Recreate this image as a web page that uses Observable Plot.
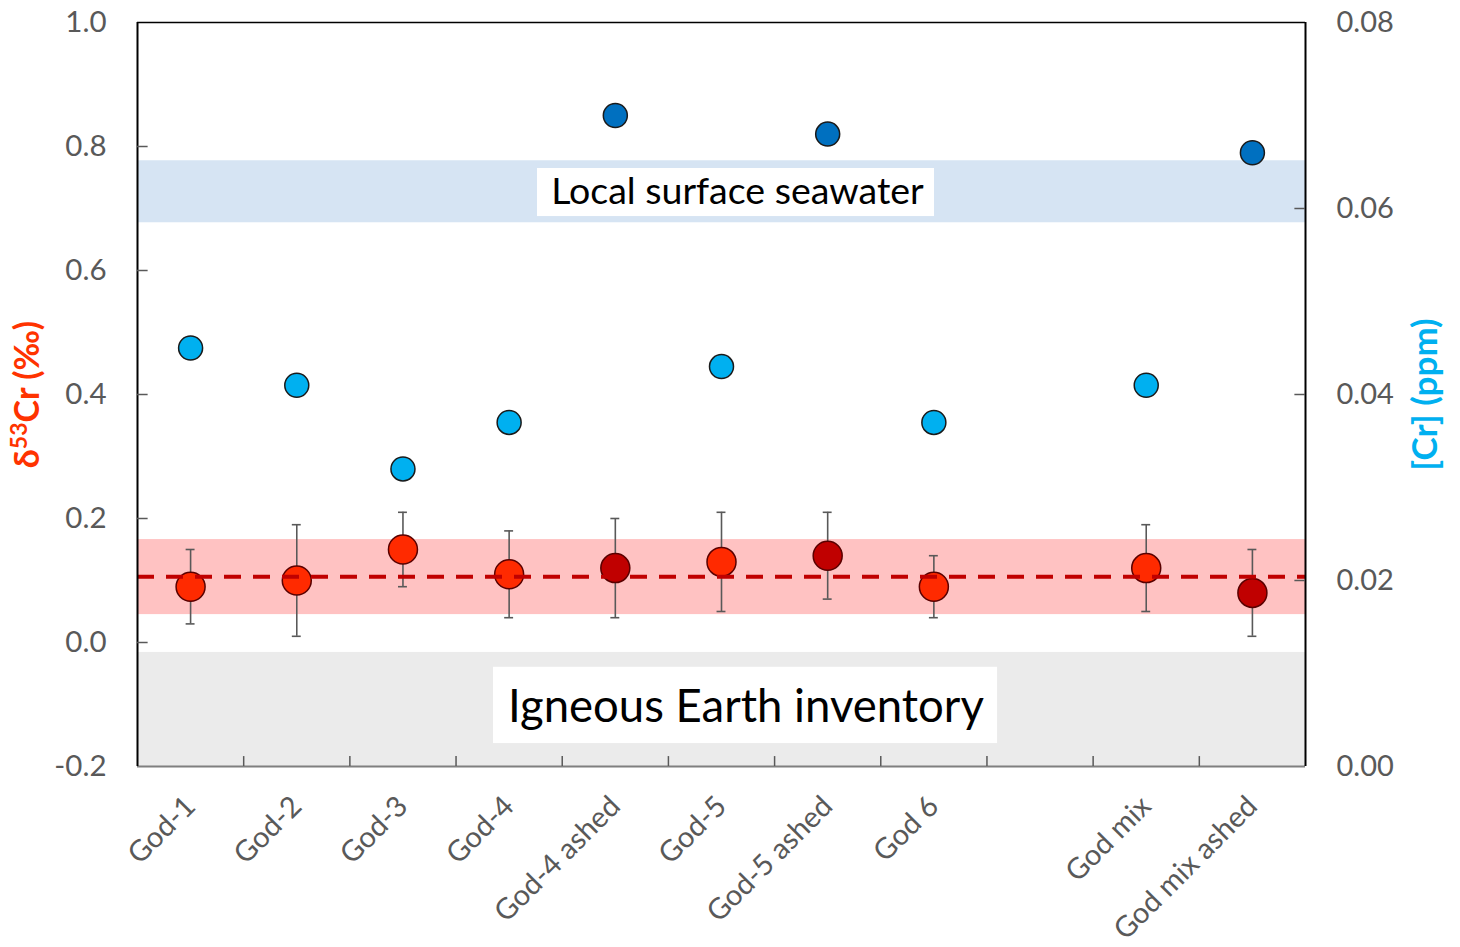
<!DOCTYPE html>
<html><head><meta charset="utf-8">
<script src="https://cdn.jsdelivr.net/npm/d3@7"></script>
<script src="https://cdn.jsdelivr.net/npm/@observablehq/plot@0.6"></script>
<style>body{margin:0;background:#fff;}</style>
</head><body><div id="chart"></div>
<script>
// ---- data ----
const categories = ["God-1","God-2","God-3","God-4","God-4 ashed","God-5","God-5 ashed","God 6","","God mix","God mix ashed"];
const ashed      = [false,false,false,false,true,false,true,false,false,false,true];
const delta53    = [0.09,0.10,0.15,0.11,0.12,0.13,0.14,0.09,null,0.12,0.08];
const deltaLow   = [0.03,0.01,0.09,0.04,0.04,0.05,0.07,0.04,null,0.05,0.01];
const deltaHigh  = [0.15,0.19,0.21,0.18,0.20,0.21,0.21,0.14,null,0.19,0.15];
const crPpm      = [0.045,0.041,0.032,0.037,0.070,0.043,0.068,0.037,null,0.041,0.066];
const leftTicks  = [-0.2,0.0,0.2,0.4,0.6,0.8,1.0];
const rightTicks = [0.00,0.02,0.04,0.06,0.08];
const seawaterBand = [0.677,0.777];
const sampleBand   = [0.045,0.166];
const igneousBand  = [-0.2,-0.016];
const meanDelta    = 0.106;

// right axis maps [0,0.08] ppm onto left [-0.2,1.0]
const toLeft = v => -0.2 + v * (1.2 / 0.08);

const rows = categories.map((c,i)=>({cat:c, pos:i+0.5, ashed:ashed[i], d:delta53[i], lo:deltaLow[i], hi:deltaHigh[i], cr:crPpm[i]})).filter(r=>r.d!=null);
const n = categories.length;
const FONT = "Lato, 'Open Sans', sans-serif";
const grey = "#595959";

const chart = Plot.plot({
  width:1460, height:947,
  marginLeft:137, marginRight:155, marginTop:22, marginBottom:181,
  x:{domain:[0,n], axis:null},
  y:{domain:[-0.2,1.0], axis:null},
  style:{fontFamily:FONT, background:"white", overflow:"visible"},
  marks:[
    Plot.rect([igneousBand], {x1:()=>0, x2:()=>n, y1:d=>d[0], y2:d=>d[1], fill:"#ebebeb"}),
    Plot.rect([seawaterBand], {x1:()=>0, x2:()=>n, y1:d=>d[0], y2:d=>d[1], fill:"#d6e4f3"}),
    Plot.rect([sampleBand], {x1:()=>0, x2:()=>n, y1:d=>d[0], y2:d=>d[1], fill:"#ffc2c2"}),
    // error bars
    Plot.ruleX(rows, {x:"pos", y1:"lo", y2:"hi", stroke:grey, strokeWidth:1.6}),
    Plot.ruleY(rows, {y:"lo", x1:d=>d.pos-0.042, x2:d=>d.pos+0.042, stroke:grey, strokeWidth:1.6}),
    Plot.ruleY(rows, {y:"hi", x1:d=>d.pos-0.042, x2:d=>d.pos+0.042, stroke:grey, strokeWidth:1.6}),
    // delta53Cr points
    Plot.dot(rows, {x:"pos", y:"d", r:14.5, fill:d=>d.ashed?"#c00000":"#ff2a00", stroke:"#5a0000", strokeWidth:1.5}),
    // mean dashed line
    Plot.ruleY([meanDelta], {x1:()=>0, x2:()=>n, stroke:"#c00000", strokeWidth:4, strokeDasharray:"17,12"}),
    // Cr concentration points
    Plot.dot(rows, {x:"pos", y:d=>toLeft(d.cr), r:12, fill:d=>d.ashed?"#0070c0":"#00b0f0", stroke:"#1a1a1a", strokeWidth:1.5}),
    // annotation boxes
    Plot.rect([0], {x1:()=>3.767, x2:()=>7.506, y1:()=>0.687, y2:()=>0.7645, fill:"white"}),
    Plot.text(["Local surface seawater"], {x:()=>5.65, y:()=>0.726, text:d=>d, fontSize:37.5, fill:"black", fontFamily:FONT}),
    Plot.rect([0], {x1:()=>3.353, x2:()=>8.10, y1:()=>-0.163, y2:()=>-0.040, fill:"white"}),
    Plot.text(["Igneous Earth inventory"], {x:()=>5.73, y:()=>-0.105, text:d=>d, fontSize:45.5, fill:"black", fontFamily:FONT}),
    // frame
    Plot.ruleY([-0.2], {x1:()=>0, x2:()=>n, stroke:"#7f7f7f", strokeWidth:2}),
    Plot.ruleY([1.0], {x1:()=>0, x2:()=>n, stroke:"black", strokeWidth:1.5}),
    Plot.ruleX([0], {y1:()=>-0.2, y2:()=>1.0, stroke:"black", strokeWidth:2}),
    Plot.ruleX([n], {y1:()=>-0.2, y2:()=>1.0, stroke:"black", strokeWidth:2}),
    // inward ticks
    Plot.ruleY(leftTicks.slice(1,-1), {y:d=>d, x1:()=>0, x2:()=>0.1, stroke:grey, strokeWidth:1.5}),
    Plot.ruleY(rightTicks.slice(1,-1).map(toLeft), {y:d=>d, x1:()=>n-0.1, x2:()=>n, stroke:grey, strokeWidth:1.5}),
    Plot.ruleX(d3.range(1,n), {x:d=>d, y1:()=>-0.2, y2:()=>-0.184, stroke:grey, strokeWidth:1.5}),
    // axes labels
    Plot.axisY(leftTicks, {anchor:"left", tickSize:0, tickPadding:31, tickFormat:d=>d.toFixed(1), fontSize:29.5, fill:grey, label:null}),
    Plot.axisY(rightTicks.map(toLeft), {anchor:"right", tickSize:0, tickPadding:31, tickFormat:d=>((d+0.2)*0.08/1.2).toFixed(2), fontSize:29, fill:grey, label:null}),
    Plot.axisX(categories.map((c,i)=>i+0.5).filter((p,i)=>categories[i]!==""), {anchor:"bottom", tickSize:0, tickPadding:35, tickRotate:-45, tickFormat:d=>categories[Math.floor(d)], fontSize:29, fill:grey, label:null}),
    // axis titles
    Plot.text(["δ53Cr (‰)"], {frameAnchor:"left", dx:-109, rotate:-90, textAnchor:"middle", text:d=>d, fontSize:34, fontWeight:"bold", fill:"#ff3300", className:"ylab-left"}),
    Plot.text(["[Cr] (ppm)"], {frameAnchor:"right", dx:120, rotate:-90, textAnchor:"middle", text:d=>d, fontSize:35, fontWeight:"bold", fill:"#00b0f0"})
  ]
});
document.getElementById("chart").appendChild(chart);
// superscript in left axis title
d3.select(chart).selectAll(".ylab-left text").each(function(){
  const t = d3.select(this); const s = t.text();
  t.text(null);
  t.append("tspan").text(s.slice(0,1));
  t.append("tspan").attr("dy","-12").attr("font-size","23").text(s.slice(1,3));
  t.append("tspan").attr("dy","12").text(s.slice(3));
});
</script></body></html>
